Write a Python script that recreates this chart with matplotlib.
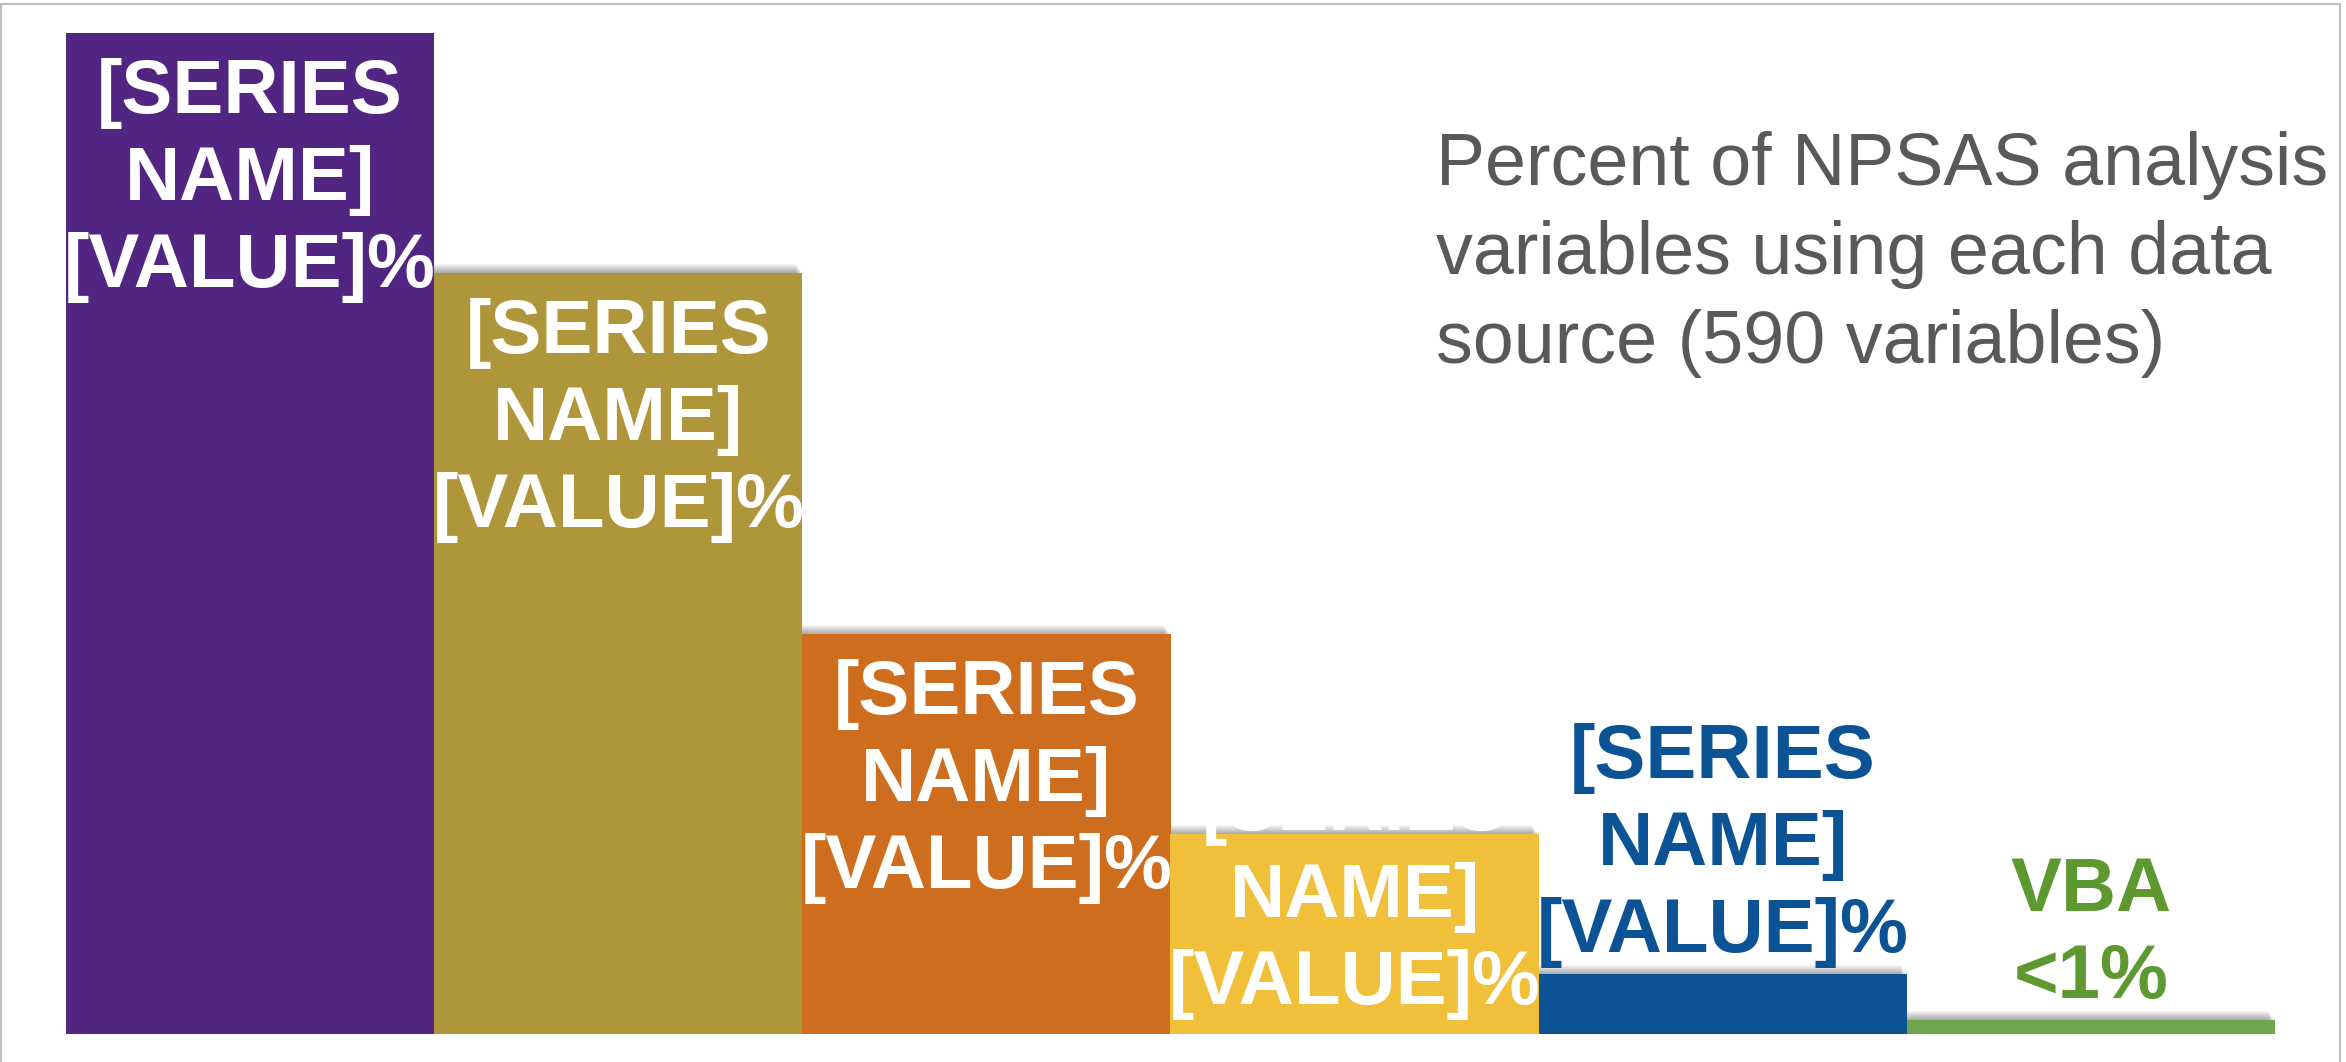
import matplotlib
matplotlib.use("Agg")
import matplotlib.pyplot as plt
import matplotlib.transforms as mtransforms
from matplotlib.patches import Rectangle
import numpy as np

plt.rcParams['font.family'] = ['Liberation Sans', 'DejaVu Sans']

# data (percent of 590 variables)
sources = ["[SERIES\nNAME]\n[VALUE]%", "[SERIES\nNAME]\n[VALUE]%", "[SERIES\nNAME]\n[VALUE]%",
           "[SERIES\nNAME]\n[VALUE]%", "[SERIES\nNAME]\n[VALUE]%", "VBA\n<1%"]
values = [50, 38, 20, 10, 3, 0.7]
bar_colors = ["#512682", "#B0963B", "#CE6D1D", "#F0C03A", "#0B5394", "#70A550"]
text_colors = ["white", "white", "white", "white", "#0B5394", "#5E9831"]
label_pos = ["top", "top", "top", "base", "outside", "outside"]

title = "Percent of NPSAS analysis\nvariables using each data\nsource (590 variables)"

W, H = 2346, 1062
fig = plt.figure(figsize=(W / 100, H / 100), dpi=100)
ax = fig.add_axes([66 / W, 1 - 1034 / H, (2275 - 66) / W, (1034 - 33) / H])
ax.set_xlim(-0.5, len(values) - 0.5)
ax.set_ylim(0, 50)
ax.axis("off")

x = np.arange(len(values))

# soft shadow up and to the left
for k in range(1, 10):
    shadow = ax.bar(x, values, width=1.0, color="black", alpha=0.04, zorder=1, linewidth=0)
    off = mtransforms.ScaledTranslation(-k * 0.7 / 100, k * 1.0 / 100, fig.dpi_scale_trans)
    for p in shadow:
        p.set_transform(ax.transData + off)

ax.bar(x, values, width=1.0, color=bar_colors, zorder=2, linewidth=0)

lab_kw = dict(ha="center", fontsize=55, fontweight="bold", multialignment="center",
              linespacing=1.29, zorder=3, textcoords="offset points")
for xi, v, lab, tc, pos in zip(x, values, sources, text_colors, label_pos):
    if pos == "top":
        ax.annotate(lab, xy=(xi, v), xytext=(0, -18), va="top", color=tc, **lab_kw)
    elif pos == "base":
        ax.annotate(lab, xy=(xi, 0), xytext=(0, 10), va="bottom", color=tc, **lab_kw)
    else:
        ax.annotate(lab, xy=(xi, v), xytext=(0, 4), va="bottom", color=tc, **lab_kw)

fig.text(1436 / W, 1 - 131 / H, title, ha="left", va="top", fontsize=53,
         color="#595959", linespacing=1.37)

# thin frame round the chart area
fig.patches.append(Rectangle((1 / W, -0.01), (2340 - 1) / W, 1 - 4 / H + 0.01,
                             transform=fig.transFigure, fill=False,
                             edgecolor="#BFBFBF", linewidth=1.5))

fig.savefig("out.png", dpi=100)
